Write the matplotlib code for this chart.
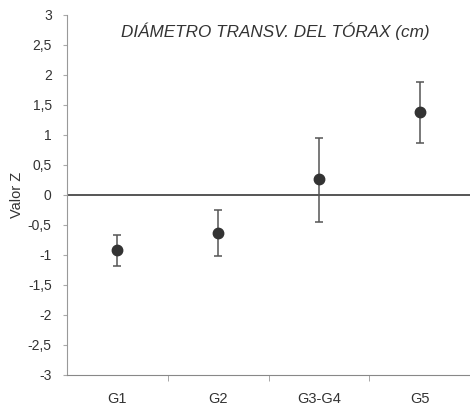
import matplotlib
matplotlib.use("Agg")
import matplotlib.pyplot as plt
import numpy as np

plt.rcParams['font.family'] = ['Liberation Sans', 'DejaVu Sans']

groups = ["G1", "G2", "G3-G4", "G5"]
z_mean = [-0.92, -0.64, 0.26, 1.38]
z_upper = [-0.67, -0.25, 0.95, 1.88]
z_lower = [-1.18, -1.02, -0.45, 0.86]
y_ticks = [-3, -2.5, -2, -1.5, -1, -0.5, 0, 0.5, 1, 1.5, 2, 2.5, 3]

W, H = 470, 405
fig = plt.figure(figsize=(W / 100, H / 100), dpi=100)
ax = fig.add_axes([67 / W, (H - 375) / H, (470 - 67) / W, 360 / H])

x = np.arange(len(groups))
mean = np.array(z_mean)
err = np.vstack([mean - np.array(z_lower), np.array(z_upper) - mean])

ax.axhline(0, color="#555555", lw=1.4, zorder=1)
ax.errorbar(x, mean, yerr=err, fmt="o", color="#333333", ms=7.5,
            ecolor="#555555", elinewidth=1.1, capsize=3, capthick=1.1, zorder=3)

ax.set_xlim(-0.5, 3.5)
ax.set_ylim(-3, 3)
ax.set_yticks(y_ticks)
ax.set_yticklabels([f"{v:g}".replace(".", ",") for v in y_ticks])
ax.set_xticks(x)
ax.set_xticklabels(groups)
ax.set_xticks([0.5, 1.5, 2.5], minor=True)
ax.tick_params(axis="x", which="major", length=0, pad=12, labelsize=10.5, colors="#333333")
ax.tick_params(axis="x", which="minor", length=4, direction="out", color="#999999")
ax.tick_params(axis="y", length=3, direction="out", color="#aaaaaa", labelsize=10, colors="#333333", pad=8)

for side in ("top", "right"):
    ax.spines[side].set_visible(False)
ax.spines["left"].set_color("#999999")
ax.spines["bottom"].set_color("#888888")

ax.set_ylabel("Valor Z", fontsize=10.5, color="#333333", labelpad=3)
ax.text(0.516, 0.955, "DIÁMETRO TRANSV. DEL TÓRAX (cm)", transform=ax.transAxes,
        ha="center", va="center", fontsize=12.3, style="italic", color="#333333")

fig.savefig("out.png", dpi=100)
